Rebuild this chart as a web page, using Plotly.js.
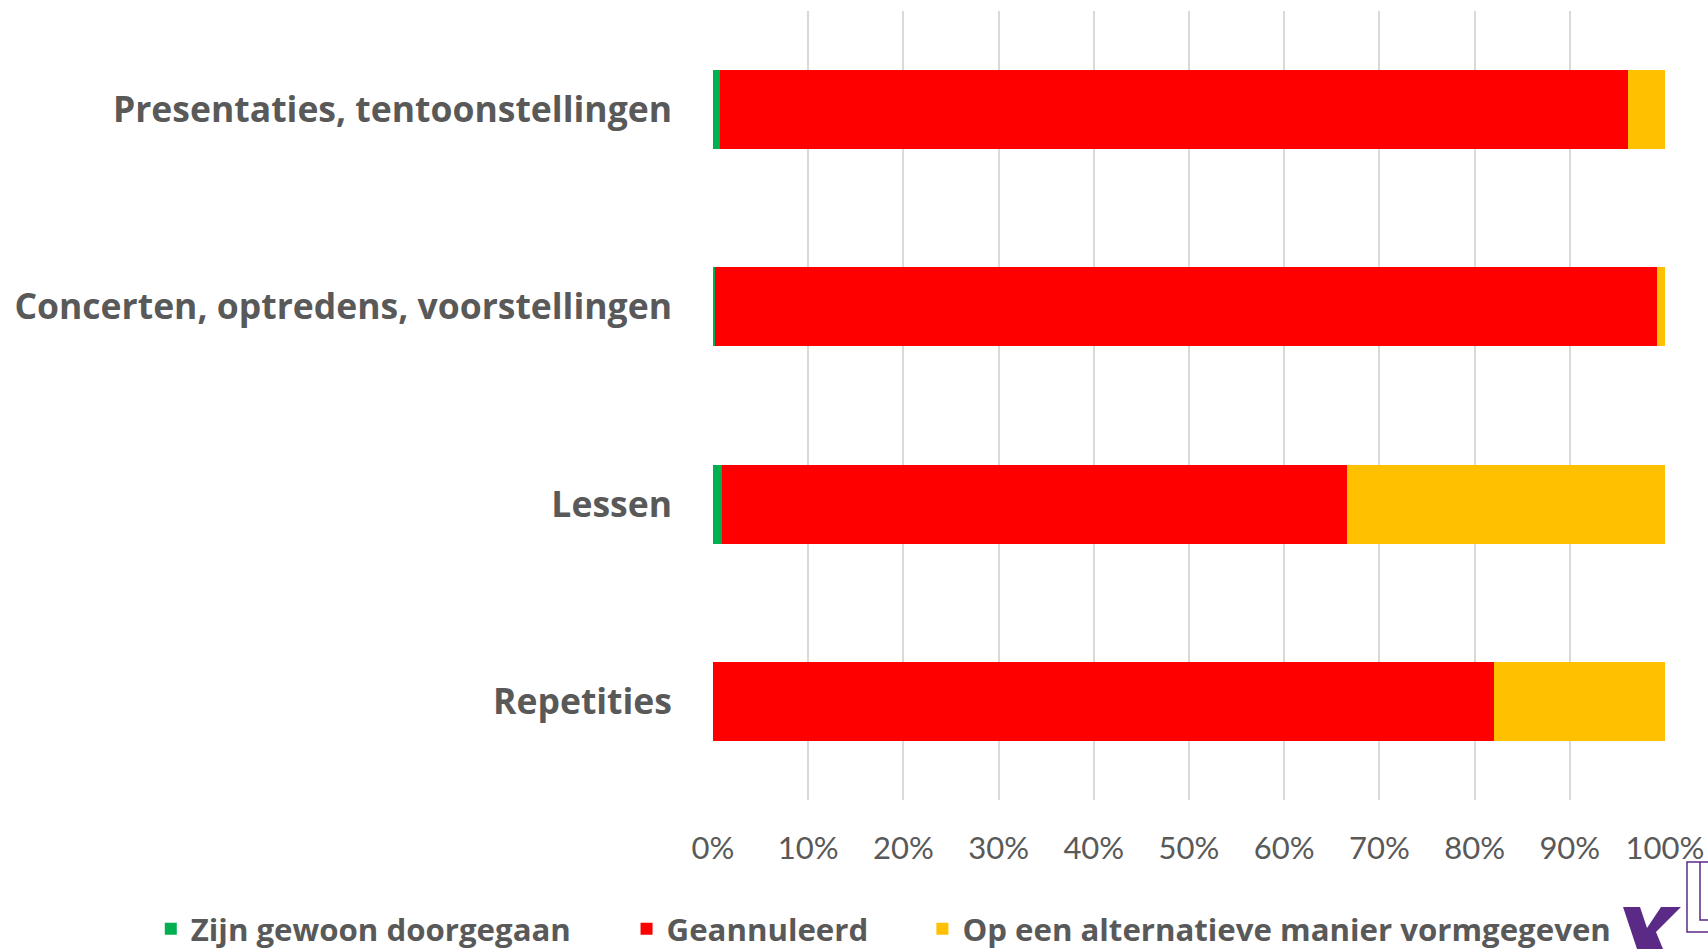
<!DOCTYPE html>
<html>
<head>
<meta charset="utf-8">
<script src="https://cdn.plot.ly/plotly-3.0.1.min.js"></script>
<style>html,body{margin:0;padding:0;background:#fff;}#chart{width:1708px;height:949px;}</style>
</head>
<body>
<div id="chart"></div>
<script>
var categories = ["Presentaties, tentoonstellingen", "Concerten, optredens, voorstellingen", "Lessen", "Repetities"];
var seriesNames = ["Zijn gewoon doorgegaan", "Geannuleerd", "Op een alternatieve manier vormgegeven"];
var doorgegaan = [0.7, 0.2, 0.9, 0.0];
var geannuleerd = [95.4, 99.0, 65.7, 82.0];
var alternatief = [3.9, 0.8, 33.4, 18.0];
var tickValues = [0, 10, 20, 30, 40, 50, 60, 70, 80, 90, 100];
var tickLabels = ["0%", "10%", "20%", "30%", "40%", "50%", "60%", "70%", "80%", "90%", "100%"];

var colors = ["#00B050", "#FF0000", "#FFC000"];
var seriesValues = [doorgegaan, geannuleerd, alternatief];
var legendIds = ["legend", "legend2", "legend3"];

var traces = seriesValues.map(function (vals, i) {
  return {
    type: "bar",
    orientation: "h",
    name: seriesNames[i],
    y: categories,
    x: vals,
    marker: { color: colors[i], line: { width: 0 } },
    legend: legendIds[i],
    hoverinfo: "name+x"
  };
});

var L = 712.5, R = 43, T = 11, B = 149, W = 1708, H = 949;
var pw = W - L - R, ph = H - T - B;
function fx(px) { return (px - L) / pw; }
function fy(py) { return (H - B - py) / ph; }
function pathFrom(pts, close) {
  var s = pts.map(function (p, i) { return (i ? "L" : "M") + fx(p[0]).toFixed(5) + "," + fy(p[1]).toFixed(5); }).join(" ");
  return close ? s + " Z" : s;
}

var purple = "#5B2A86";
var kPts = [[1623, 907], [1640, 907], [1647, 928], [1661, 907], [1681, 907], [1656, 932], [1663, 949], [1637, 949]];
var boxPts = [[1716, 862], [1687, 862], [1687, 932], [1716, 932]];
var innerPts = [[1700, 862], [1700, 920], [1716, 920]];

var textColor = "#595959";
var legFont = { family: "'Open Sans', sans-serif", size: 31.2, color: textColor, weight: "bold" };
function legendAt(px) {
  return { x: fx(px), y: fy(929), xanchor: "left", yanchor: "middle", orientation: "h",
    font: legFont, bgcolor: "rgba(0,0,0,0)", borderwidth: 0 };
}

var layout = {
  width: W, height: H,
  margin: { l: L, r: R, t: T, b: B, pad: 0, autoexpand: false },
  paper_bgcolor: "#fff", plot_bgcolor: "#fff",
  barmode: "stack",
  bargap: 0.6,
  font: { family: "Lato, 'Open Sans', sans-serif", color: textColor },
  xaxis: {
    range: [0, 100],
    tickmode: "array", tickvals: tickValues, ticktext: tickLabels,
    showgrid: true, gridcolor: "#D9D9D9", gridwidth: 2,
    zeroline: false, showline: false, ticks: "",
    tickfont: { family: "Lato, 'Open Sans', sans-serif", size: 31, color: textColor },
    ticklabelstandoff: 27,
    fixedrange: true
  },
  yaxis: {
    type: "category",
    categoryorder: "array", categoryarray: categories,
    autorange: "reversed",
    showgrid: false, zeroline: false, showline: false, ticks: "",
    tickfont: { family: "'Open Sans', sans-serif", size: 35.5, color: textColor, weight: "bold" },
    ticklabelstandoff: 40,
    fixedrange: true
  },
  showlegend: true,
  legend: legendAt(150),
  legend2: legendAt(626),
  legend3: legendAt(922),
  shapes: [
    { type: "path", xref: "paper", yref: "paper", path: pathFrom(kPts, true), fillcolor: purple, line: { width: 0 } },
    { type: "path", xref: "paper", yref: "paper", path: pathFrom(boxPts, false), line: { color: purple, width: 1.5 } },
    { type: "path", xref: "paper", yref: "paper", path: pathFrom(innerPts, false), line: { color: purple, width: 1.5 } }
  ]
};

Plotly.newPlot("chart", traces, layout, { displayModeBar: false, staticPlot: true });
</script>
</body>
</html>
